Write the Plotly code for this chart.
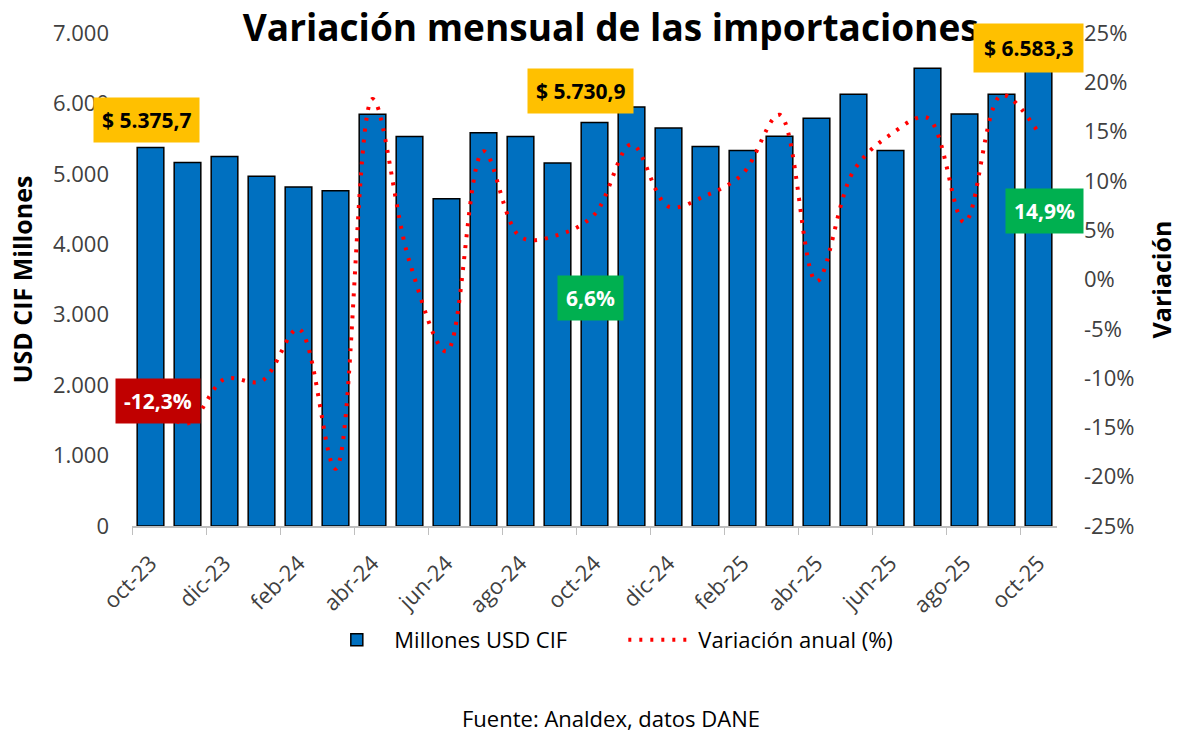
import plotly.graph_objects as go

months = ["oct-23", "nov-23", "dic-23", "ene-24", "feb-24", "mar-24", "abr-24", "may-24",
          "jun-24", "jul-24", "ago-24", "sep-24", "oct-24", "nov-24", "dic-24", "ene-25",
          "feb-25", "mar-25", "abr-25", "may-25", "jun-25", "jul-25", "ago-25", "sep-25", "oct-25"]
imports_musd = [5375.7, 5160, 5245, 4965, 4815, 4760, 5845, 5530, 4645, 5585, 5530, 5155,
                5730.9, 5950, 5650, 5390, 5330, 5535, 5790, 6130, 5330, 6500, 5850, 6130, 6583.3]
var_pct = [-12.3, -14.6, -10.1, -10.3, -5.0, -19.2, 18.3, 1.8, -7.3, 13.0, 4.3, 4.5,
           6.6, 13.7, 7.4, 8.5, 10.7, 16.7, -0.2, 11.0, 14.7, 16.4, 5.8, 18.7, 14.9]

y1_ticks = [0, 1000, 2000, 3000, 4000, 5000, 6000, 7000]
y1_text = ["0", "1.000", "2.000", "3.000", "4.000", "5.000", "6.000", "7.000"]
y2_ticks = [-25, -20, -15, -10, -5, 0, 5, 10, 15, 20, 25]
y2_text = ["-25%", "-20%", "-15%", "-10%", "-5%", "0%", "5%", "10%", "15%", "20%", "25%"]


def es_num(v, dec=1):
    s = f"{v:,.{dec}f}"
    return s.replace(",", "X").replace(".", ",").replace("X", ".")


FONT = "Open Sans"
GRAY = "#404040"

fig = go.Figure()
fig.add_trace(go.Bar(
    x=months, y=imports_musd, name="Millones USD CIF",
    marker=dict(color="#0070C0", line=dict(color="#000000", width=1.5)),
    yaxis="y"))
fig.add_trace(go.Scatter(
    x=months, y=var_pct, name="Variación anual (%)", mode="lines",
    line=dict(color="#FF0000", width=4, dash="3px,8px", shape="spline", smoothing=1.0),
    yaxis="y2"))

ann = []
# value labels (orange)
for idx, xs, ys, pad in [(0, -4, 27, 8), (12, -14, 31, 8), (24, -10, 14, 10)]:
    ann.append(dict(x=months[idx], y=imports_musd[idx], xref="x", yref="y",
                    text=f"<b>$ {es_num(imports_musd[idx])}</b>", showarrow=False,
                    xshift=xs, yshift=ys, yanchor="middle", xanchor="center",
                    bgcolor="#FFC000", borderpad=pad,
                    font=dict(family=FONT, size=21, color="#000000")))
# percent labels
for idx, xs, ys, col in [(0, 7, 0, "#C00000"), (12, -4, -84, "#00B050"), (24, 6, -78, "#00B050")]:
    ann.append(dict(x=months[idx], y=var_pct[idx], xref="x", yref="y2",
                    text=f"<b>{es_num(var_pct[idx])}%</b>", showarrow=False,
                    xshift=xs, yshift=ys, bgcolor=col, borderpad=8,
                    font=dict(family=FONT, size=21, color="#FFFFFF")))
ann.append(dict(x=0.518, y=-0.389, xref="paper", yref="paper", xanchor="center", yanchor="middle",
                text="Fuente: Analdex, datos DANE", showarrow=False,
                font=dict(family=FONT, size=22, color="#000000")))

fig.update_layout(
    width=1179, height=735,
    margin=dict(l=132, r=122, t=33, b=209, autoexpand=False),
    paper_bgcolor="white", plot_bgcolor="white",
    font=dict(family=FONT, size=20, color=GRAY),
    title=dict(text="<b>Variación mensual de las importaciones</b>",
               x=0.518, xanchor="center", y=0.962, yanchor="middle",
               font=dict(family=FONT, size=37, color="#000000")),
    bargap=0.28,
    showlegend=True,
    legend=dict(orientation="h", x=0.2025, xanchor="left", y=-0.231, yanchor="middle",
                font=dict(family=FONT, size=22, color="#000000"), itemwidth=65,
                entrywidth=224, entrywidthmode="pixels",
                bgcolor="rgba(0,0,0,0)"),
    annotations=ann,
    xaxis=dict(
        type="category", tickmode="linear", dtick=2, tickangle=-45, tickson="boundaries",
        ticks="outside", ticklen=7, tickcolor="#BFBFBF", showline=True, linecolor="#BFBFBF",
        linewidth=1.5, showgrid=False, ticklabelstandoff=14,
        tickfont=dict(family=FONT, size=22, color=GRAY),
        range=[-0.5, 24.5]),
    yaxis=dict(
        range=[0, 7000], tickmode="array", tickvals=y1_ticks, ticktext=y1_text,
        showgrid=False, zeroline=False, showline=False, ticks="",
        ticklabelstandoff=22, tickfont=dict(family=FONT, size=22, color=GRAY),
        title=dict(text="<b>USD CIF Millones</b>", standoff=13,
                   font=dict(family=FONT, size=25, color="#000000"))),
    yaxis2=dict(
        range=[-25, 25], overlaying="y", side="right", tickmode="array", tickvals=y2_ticks,
        ticktext=y2_text, showgrid=False, zeroline=False, showline=False, ticks="",
        ticklabelstandoff=26, tickfont=dict(family=FONT, size=22, color=GRAY),
        title=dict(text="<b>Variación</b>", standoff=20,
                   font=dict(family=FONT, size=25, color="#000000"))),
)

fig.write_html("out.html", config={"displayModeBar": False},
               post_script="document.body.style.margin='0';")
